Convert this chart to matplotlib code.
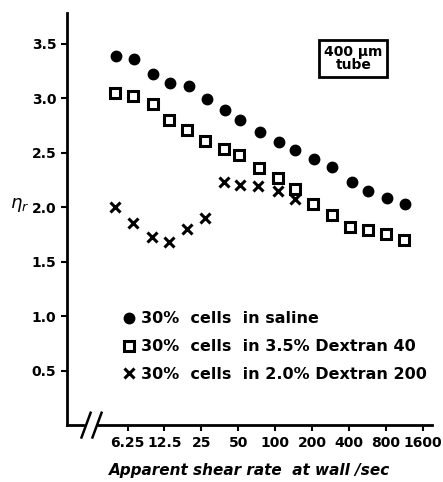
import matplotlib.pyplot as plt
from matplotlib.lines import Line2D

# Dados
shear_saline = [5.0, 7.1, 10, 14, 20, 28, 39, 52, 75, 107, 145, 207, 290, 425, 575, 820, 1150]
eta_saline = [3.39, 3.36, 3.22, 3.14, 3.11, 2.99, 2.89, 2.80, 2.69, 2.60, 2.52, 2.44, 2.37, 2.23, 2.15, 2.08, 2.03]

shear_d40 = [4.9, 6.9, 10, 13.5, 19, 27, 38, 51, 74, 105, 145, 205, 290, 410, 575, 800, 1130]
eta_d40 = [3.05, 3.02, 2.95, 2.80, 2.71, 2.61, 2.53, 2.48, 2.36, 2.27, 2.17, 2.03, 1.93, 1.82, 1.79, 1.75, 1.70]

shear_d200 = [4.9, 6.9, 9.8, 13.5, 19, 27, 38, 52, 73, 105, 145]
eta_d200 = [2.00, 1.85, 1.73, 1.68, 1.80, 1.90, 2.23, 2.20, 2.19, 2.15, 2.07]

xticks = [6.25, 12.5, 25, 50, 100, 200, 400, 800, 1600]
xticklabels = ['6.25', '12.5', '25', '50', '100', '200', '400', '800', '1600']
yticks = [0.5, 1.0, 1.5, 2.0, 2.5, 3.0, 3.5]
yticklabels = ['0.5', '1.0', '1.5', '2.0', '2.5', '3.0', '3.5']
labels = ['30%  cells  in saline', '30%  cells  in 3.5% Dextran 40', '30%  cells  in 2.0% Dextran 200']

fig = plt.figure(figsize=(4.43, 4.82), dpi=100)
ax = fig.add_axes([0.151, 0.118, 0.824, 0.855])

ax.plot(shear_saline, eta_saline, 'o', color='black', markersize=7.5)
ax.plot(shear_d40, eta_d40, 's', mfc='white', mec='black', mew=2.2, markersize=6.5)
ax.plot(shear_d200, eta_d200, 'x', color='black', mew=2.2, markersize=6.5)

ax.set_xscale('log', base=2)
ax.set_xlim(2.0, 1900)
ax.set_ylim(0, 3.78)

ax.set_xticks(xticks)
ax.set_xticklabels(xticklabels)
ax.minorticks_off()
ax.set_yticks(yticks)
ax.set_yticklabels(yticklabels)
ax.tick_params(axis='both', direction='out', length=4, width=1.5, labelsize=10)
for t in ax.get_xticklabels() + ax.get_yticklabels():
    t.set_fontweight('bold')

ax.spines['top'].set_visible(False)
ax.spines['right'].set_visible(False)
ax.spines['left'].set_linewidth(2)
ax.spines['bottom'].set_linewidth(2)
ax.spines['bottom'].set_bounds(3.6, 1900)

# Quebra do eixo x
ax.plot([0, 0.045], [0, 0], transform=ax.transAxes, color='black', lw=2, clip_on=False)
ax.plot([0.04, 0.065], [-0.03, 0.03], transform=ax.transAxes, color='black', lw=1.8, clip_on=False)
ax.plot([0.07, 0.095], [-0.03, 0.03], transform=ax.transAxes, color='black', lw=1.8, clip_on=False)

ax.set_xlabel('Apparent shear rate  at wall /sec', fontsize=11, fontweight='bold',
              style='italic', labelpad=10)
fig.text(0.045, 0.575, r'$\eta_r$', fontsize=13, ha='center', va='center')

ax.text(0.785, 0.89, '400 \u03bcm\ntube', transform=ax.transAxes, ha='center', va='center',
        fontsize=10, fontweight='bold', linespacing=0.9,
        bbox=dict(boxstyle='square,pad=0.35', fc='white', ec='black', lw=2))

handles = [
    Line2D([], [], ls='none', marker='o', color='black', markersize=7.5),
    Line2D([], [], ls='none', marker='s', mfc='white', mec='black', mew=2.2, markersize=6.5),
    Line2D([], [], ls='none', marker='x', color='black', mew=2.2, markersize=6.5),
]
leg = ax.legend(handles, labels, loc='lower left', bbox_to_anchor=(0.11, 0.07),
                frameon=False, handletextpad=0.2, handlelength=1.0,
                labelspacing=0.8, prop={'size': 11.5, 'weight': 'semibold'})

plt.savefig('out.png', dpi=100)
